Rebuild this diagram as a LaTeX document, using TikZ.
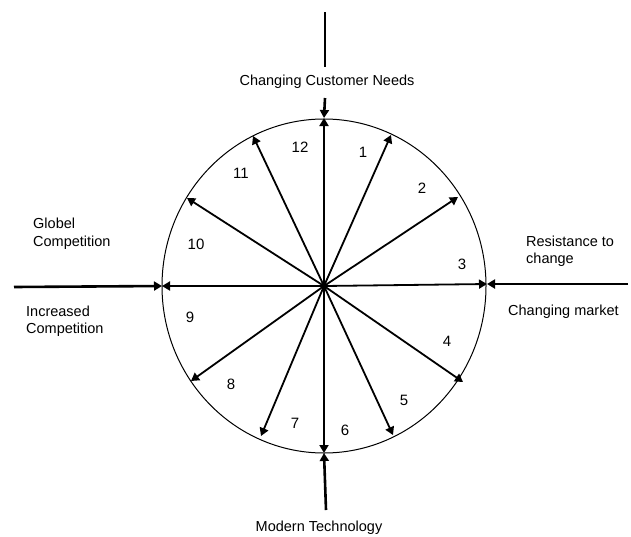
\documentclass[tikz,border=0pt]{standalone}
\usepackage{fontspec}
\setmainfont{Liberation Sans}
\usetikzlibrary{arrows.meta}

\begin{document}
\begin{tikzpicture}[x=1pt, y=-1pt, >={Triangle[length=8pt,width=9pt]},
    spoke/.style={line width=1.8pt, ->},
    force/.style={line width=2.6pt},
    lbl/.style={font=\fontsize{14.5}{17.5}\selectfont, inner sep=0pt, align=left},
    num/.style={font=\fontsize{15}{18}\selectfont, inner sep=0pt}]
  \useasboundingbox (0,0) rectangle (631,536);
  % wheel
  \path coordinate (O)   at (324,286)
        coordinate (s1)  at (391,135)
        coordinate (s2)  at (458,197)
        coordinate (s3)  at (487,284)
        coordinate (s4)  at (463,382)
        coordinate (s5)  at (393,435)
        coordinate (s6)  at (324,453)
        coordinate (s7)  at (261,436)
        coordinate (s8)  at (191,381)
        coordinate (s9)  at (162,286)
        coordinate (s10) at (187,198)
        coordinate (s11) at (253,136)
        coordinate (s12) at (324,118);
  \draw[line width=1pt] (O) ellipse [x radius=162, y radius=167];
  \foreach \i in {1,...,12}
    \draw[spoke] (O) -- (s\i);
  \path node (n1)  at (363,152) [num] {1}
        node (n2)  at (422,188) [num] {2}
        node (n3)  at (462,264) [num] {3}
        node (n4)  at (447,341) [num] {4}
        node (n5)  at (404,400) [num] {5}
        node (n6)  at (345,430) [num] {6}
        node (n7)  at (295,423) [num] {7}
        node (n8)  at (231,384) [num] {8}
        node (n9)  at (190,317) [num] {9}
        node (n10) at (196,244) [num] {10}
        node (n11) at (241,173) [num] {11}
        node (n12) at (300,147) [num] {12};
  % forces
  \path coordinate (t1) at (325,12)
        coordinate (t2) at (325,67)
        coordinate (t3) at (325,98)
        coordinate (b1) at (326,510)
        coordinate (l1) at (14,287)
        coordinate (r1) at (628,284);
  \path node (needs) at (327,82)  [lbl] {Changing Customer Needs}
        node (tech)  at (319,528) [lbl] {Modern Technology}
        node (glob)  at (33,233.5) [lbl, anchor=west] {Globel\\Competition}
        node (incr)  at (26,321)  [lbl, anchor=west] {Increased\\Competition}
        node (resi)  at (526,251) [lbl, anchor=west] {Resistance to\\change}
        node (mark)  at (508,312) [lbl, anchor=west] {Changing market};
  \draw[force] (t1) -- (t2);
  \draw[force, ->] (t3) -- (s12);
  \draw[force, ->] (b1) -- (s6);
  \draw[force, ->] (l1) -- (s9);
  \draw[force, ->] (r1) -- (s3);
\end{tikzpicture}
\end{document}
